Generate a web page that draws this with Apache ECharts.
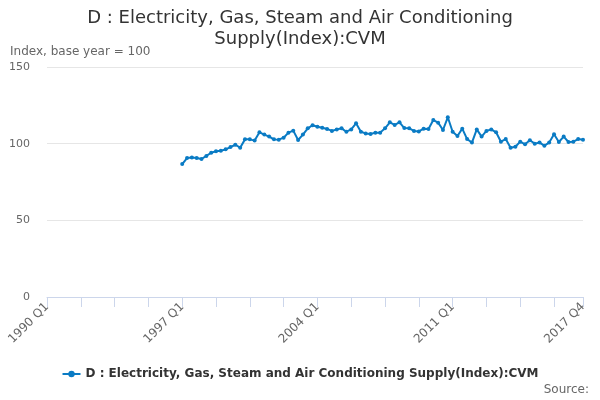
<!DOCTYPE html>
<html>
<head>
<meta charset="utf-8">
<script src="https://cdn.jsdelivr.net/npm/echarts@6/dist/echarts.min.js"></script>
<style>
  html, body { margin: 0; padding: 0; background: #fff; }
  #chart { width: 600px; height: 400px; }
</style>
</head>
<body>
<div id="chart"></div>
<script>
// ONS-style index chart: D : Electricity, Gas, Steam and Air Conditioning Supply (CVM)

const FIRST_YEAR = 1990, LAST_YEAR = 2017;
const DATA_START = '1997 Q1';
const LABEL_STEP = 28;  // one label every 7 years
const TICK_STEP  = 7;   // one tick every 7 quarters
const yTicks = { min: 0, max: 150, interval: 50 };

// quarterly values from 1997 Q1 to 2017 Q4 (index, base year = 100)
const indexValues = [
  86.7, 90.6, 90.9, 90.6, 90.0, 92.0, 94.1, 95.0, 95.4, 96.3, 97.8, 99.3,
  97.4, 102.8, 102.8, 102.0, 107.4, 105.9, 104.6, 102.8, 102.6, 103.9, 107.2, 108.5,
  102.4, 105.9, 110.0, 112.0, 111.0, 110.4, 109.6, 108.3, 109.3, 110.0, 107.8, 109.3,
  113.3, 107.8, 106.7, 106.3, 107.2, 107.2, 110.0, 113.9, 112.2, 113.9, 110.2, 110.0,
  108.3, 108.0, 109.8, 109.6, 115.4, 113.7, 108.9, 117.2, 107.8, 105.0, 109.8, 103.0,
  100.7, 109.3, 104.6, 108.3, 109.3, 107.4, 101.3, 103.0, 97.4, 98.0, 101.3, 99.6,
  102.2, 100.0, 100.7, 98.7, 100.7, 106.1, 101.1, 104.6, 101.1, 101.3, 103.0, 102.6,
];

const seriesName = 'D : Electricity, Gas, Steam and Air Conditioning Supply(Index):CVM';

// ── categories ──────────────────────────────────────────────
const quarters = [];
for (let y = FIRST_YEAR; y <= LAST_YEAR; y++) {
  for (let q = 1; q <= 4; q++) quarters.push(`${y} Q${q}`);
}
const startIdx = quarters.indexOf(DATA_START);
const seriesData = quarters.map((_, i) => (i < startIdx ? null : indexValues[i - startIdx]));
const lastIdx = quarters.length - 1;

const axisClr = '#ccd6eb';
const gridClr = '#e6e6e6';
const textClr = '#666666';
const lineClr = '#0a7bc4';
const font = 'DejaVu Sans';

const chart = echarts.init(document.getElementById('chart'));
chart.setOption({
  backgroundColor: '#fff', animation: false,
  textStyle: { fontFamily: font },
  title: {
    text: 'D : Electricity, Gas, Steam and Air Conditioning\nSupply(Index):CVM',
    left: 'center', top: 3,
    textStyle: { fontFamily: font, fontSize: 18, fontWeight: 'normal', color: '#333333', lineHeight: 21, align: 'center' },
  },
  grid: { left: 47, right: 17, top: 67, bottom: 103, containLabel: false },
  xAxis: {
    type: 'category', data: quarters, boundaryGap: false,
    axisLine: { lineStyle: { color: axisClr, width: 1 } },
    axisTick: {
      show: true, length: 10, lineStyle: { color: axisClr },
      interval: i => i % TICK_STEP === 0 || i === lastIdx,
    },
    axisLabel: {
      color: textClr, fontSize: 12, rotate: 45, margin: 8, fontFamily: font,
      interval: i => i % LABEL_STEP === 0 || i === lastIdx,
      showMaxLabel: true,
    },
    splitLine: { show: false },
  },
  yAxis: {
    type: 'value', min: yTicks.min, max: yTicks.max, interval: yTicks.interval,
    name: 'Index, base year = 100', nameLocation: 'end', nameGap: 9,
    nameTextStyle: { color: textClr, fontSize: 12, align: 'left', padding: [0, 0, 0, -37], fontFamily: font },
    axisLine: { show: false }, axisTick: { show: false },
    axisLabel: { color: textClr, fontSize: 11, margin: 17, fontFamily: font },
    splitLine: { lineStyle: { color: gridClr, width: 1 } },
  },
  legend: {
    data: [seriesName], bottom: 15, left: 'center',
    itemWidth: 18, itemHeight: 8, itemGap: 6,
    textStyle: { color: '#333333', fontSize: 12, fontWeight: 'bold', fontFamily: font },
  },
  graphic: [{
    type: 'text', right: 11, bottom: 4,
    style: { text: 'Source:', fill: textClr, fontSize: 12, fontFamily: font },
  }],
  series: [{
    name: seriesName, type: 'line', data: seriesData,
    symbol: 'circle', symbolSize: 4, showSymbol: true, showAllSymbol: true,
    itemStyle: { color: lineClr }, lineStyle: { color: lineClr, width: 2 },
    connectNulls: false,
  }],
});
</script>
</body>
</html>
